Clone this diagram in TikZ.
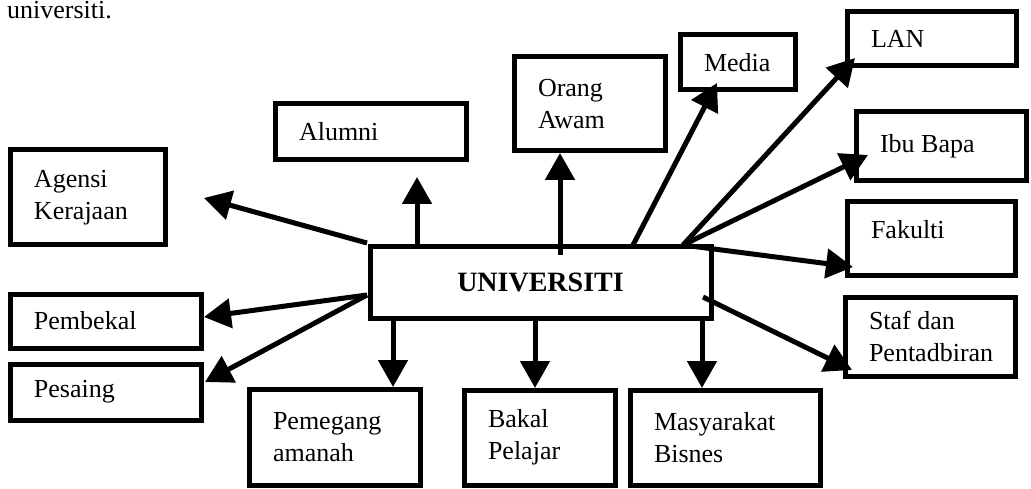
\documentclass[tikz,border=0pt]{standalone}
\usepackage{fontspec}
\setmainfont{Liberation Serif}
\usetikzlibrary{arrows.meta}
\tikzset{
  lbl/.style={draw=black, line width=5pt, rectangle, inner xsep=24pt, inner ysep=0pt,
    align=left, font=\fontsize{26}{32}\selectfont},
  conn/.style={line width=5pt, -{Triangle[length=27pt,width=29pt]}}
}
\newcommand{\bx}[6]{% name, cx, cy, W, H, text
  \pgfmathsetmacro{\tw}{#4-48}
  \node[lbl, minimum width=#4pt, minimum height=#5pt, text width=\tw pt] (#1) at (#2,#3) {\spaceskip=.25em plus .1em\relax #6};}
\begin{document}
\begin{tikzpicture}[x=1pt,y=-1pt]
\useasboundingbox[fill=white] (0,0) rectangle (1031,489);
\node[anchor=base west, inner sep=0pt, font=\fontsize{26}{32}\selectfont] (cap) at (7,19) {universiti.};
\bx{agensi}{87.5}{197.5}{155}{95}{Agensi\\Kerajaan}
\bx{alumni}{370.5}{132}{191}{56}{Alumni}
\bx{orang}{589.5}{104}{151}{94}{Orang\\Awam}
\bx{media}{737.5}{62.5}{115}{55}{Media}
\bx{lan}{931.5}{39}{169}{54}{LAN}
\bx{ibu}{941}{146.5}{170}{69}{Ibu Bapa}
\bx{fakulti}{931}{238.5}{168}{73}{Fakulti\\[-24pt]\strut}
\bx{staf}{930}{336.5}{170}{79}{Staf dan\\Pentadbiran}
\bx{pembekal}{105.5}{321}{191}{54}{Pembekal}
\bx{pesaing}{105.5}{392}{191}{56}{Pesaing}
\bx{pemegang}{334.5}{437}{171}{96}{Pemegang\\amanah}
\bx{bakal}{539.5}{437.5}{151}{95}{Bakal\\Pelajar}
\bx{masy}{725}{437.5}{190}{95}{Masyarakat\\Bisnes}
\node[draw=black, line width=5pt, minimum width=341pt, minimum height=71pt, inner sep=0pt,
  font=\fontsize{28}{32}\selectfont\bfseries] (univ) at (540.5,282.5) {UNIVERSITI};
% named connector ends
\coordinate (sAgensi) at (367,243);   \coordinate (tAgensi) at (204,198);
\coordinate (sAlumni) at (417,245);   \coordinate (tAlumni) at (417,177);
\coordinate (sOrang) at (560,255);    \coordinate (tOrang) at (560,153);
\coordinate (sMedia) at (633,245);    \coordinate (tMedia) at (717,83);
\coordinate (sFan) at (683,245);
\coordinate (tLan) at (855,58);
\coordinate (tIbu) at (868,155);
\coordinate (tFakulti) at (853,267);
\coordinate (sStaf) at (703,297);     \coordinate (tStaf) at (852,370);
\coordinate (sLeft) at (367,295);
\coordinate (tPembekal) at (204,317);
\coordinate (tPesaing) at (205,382);
\coordinate (sPemegang) at (393,320); \coordinate (tPemegang) at (393,387);
\coordinate (sBakal) at (535,320);    \coordinate (tBakal) at (535,388);
\coordinate (sMasy) at (702,320);     \coordinate (tMasy) at (702,388);
\draw[conn] (sAgensi) -- (tAgensi);
\draw[conn] (sAlumni) -- (tAlumni);
\draw[conn] (sOrang) -- (tOrang);
\draw[conn] (sMedia) -- (tMedia);
\draw[conn] (sFan) -- (tLan);
\draw[conn] (sFan) -- (tIbu);
\draw[conn] (sFan) -- (tFakulti);
\draw[conn] (sStaf) -- (tStaf);
\draw[conn] (sLeft) -- (tPembekal);
\draw[conn] (sLeft) -- (tPesaing);
\draw[conn] (sPemegang) -- (tPemegang);
\draw[conn] (sBakal) -- (tBakal);
\draw[conn] (sMasy) -- (tMasy);
\end{tikzpicture}
\end{document}
